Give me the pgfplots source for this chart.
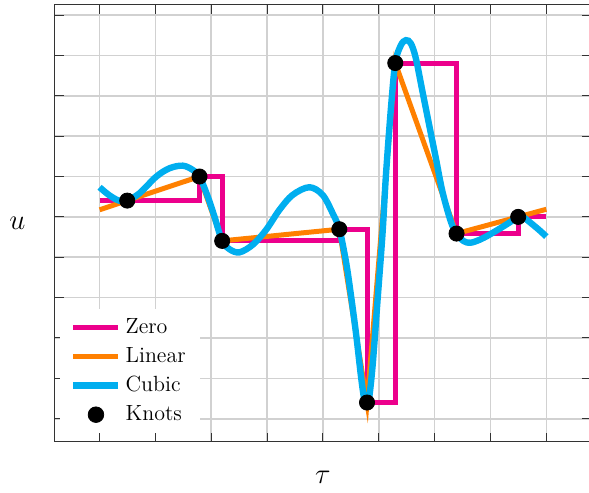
\documentclass[border=0pt]{standalone}
\usepackage{pgfplots}
\pgfplotsset{compat=1.18}
\definecolor{zpink}{RGB}{236,0,140}
\definecolor{lorange}{RGB}{255,128,0}
\definecolor{cblue}{RGB}{0,174,239}
\begin{document}
\begin{tikzpicture}
\begin{axis}[name=ax, scale only axis, width=268.4pt, height=218.7pt,
 xmin=-0.8, xmax=8.8, ymin=-5.572, ymax=5.25,
 xtick={0,...,8}, ytick={-5,...,5}, xticklabels={}, yticklabels={},
 grid=major, major grid style={line width=0.8pt, black!18},
 axis line style={line width=0.5pt, black!80},
 major tick length=4.5pt, tick style={line width=0.5pt, black!80},
 legend style={draw=none, fill=white, at={(0.0093,0.02)}, anchor=south west, font=\fontsize{11}{13}\selectfont, row sep=1.5pt, inner xsep=5pt, inner ysep=2.5pt},
 legend cell align=left,
 legend image code/.code={\draw[#1] (0pt,0pt) -- (22.5pt,0pt);},
]
\addplot[const plot, zpink, line width=2.5pt] coordinates {
(0,0.404) (1.789,1.0) (2.195,-0.594) (4.293,-0.305) (4.789,-4.599) (5.295,3.812) (6.392,-0.413) (7.496,0) (8,0)};
\addlegendentry{Zero}
\addplot[lorange, line width=2.5pt] coordinates {
(0,0.176) (0.495,0.404) (1.789,1.0) (2.195,-0.594) (4.293,-0.305) (4.789,-4.599) (5.295,3.812) (6.392,-0.413) (7.496,0) (8,0.189)};
\addlegendentry{Linear}
\addplot[cblue, line width=3.2pt, smooth, tension=0.55] coordinates {
(0,0.735) (0.15,0.56) (0.3,0.43) (0.4,0.39) (0.495,0.404) (0.715,0.586) (1.014,0.997) (1.252,1.205) (1.49,1.269) (1.669,1.163) (1.789,1.0) (1.937,0.502) (2.057,0.007) (2.195,-0.594) (2.325,-0.8) (2.504,-0.878) (2.742,-0.69) (2.982,-0.32) (3.22,0.173) (3.457,0.544) (3.756,0.735) (3.994,0.544) (4.173,0.092) (4.293,-0.305) (4.4,-1.014) (4.471,-1.64) (4.591,-2.877) (4.681,-3.95) (4.74,-4.526) (4.78,-4.63) (4.82,-4.55) (4.888,-3.703) (4.978,-2.053) (5.067,-0.403) (5.128,1.039) (5.217,2.689) (5.295,3.812) (5.396,4.254) (5.486,4.378) (5.575,4.296) (5.664,3.925) (5.783,3.099) (5.902,2.276) (6.022,1.452) (6.14,0.626) (6.29,-0.116) (6.392,-0.413) (6.52,-0.6) (6.64,-0.64) (6.8,-0.57) (6.976,-0.445) (7.274,-0.198) (7.496,0) (7.57,0.01) (7.691,-0.116) (7.87,-0.322) (8,-0.487)};
\addlegendentry{Cubic}
\addplot[only marks, mark=*, mark size=3.8pt, black, legend image code/.code={\fill[black] (11.25pt,0pt) circle (3.9pt);}] coordinates {
(0.495,0.404) (1.789,1.0) (2.195,-0.594) (4.293,-0.305) (4.789,-4.599) (5.295,3.812) (6.392,-0.413) (7.496,0)};
\addlegendentry{Knots}
\end{axis}
\node at ([xshift=-18.75pt]ax.west) {\Large $u$};
\node at ([yshift=-18pt]ax.south) {\Large $\tau$};
\pgfresetboundingbox
\path ([xshift=-27.5pt,yshift=-25.5pt]ax.south west) rectangle ([xshift=-1pt,yshift=2.5pt]ax.north east);
\end{tikzpicture}
\end{document}
